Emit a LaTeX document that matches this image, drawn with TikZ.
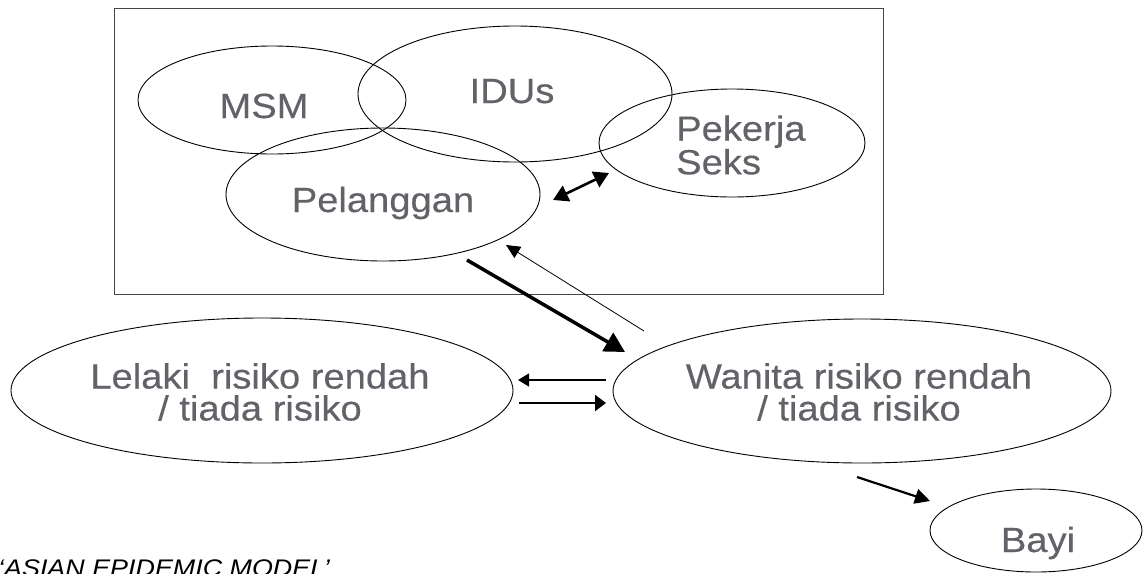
\documentclass[tikz,border=0pt]{standalone}
\usepackage{fontspec}
\newfontfamily\lblfont{Liberation Sans}[FakeStretch=1.09,FakeBold=0.35]
\newfontfamily\capfont{Liberation Sans}[FakeStretch=1.12]
\usetikzlibrary{shapes.geometric,arrows.meta}
\definecolor{lblgray}{RGB}{98,98,104}
\definecolor{boxgray}{RGB}{70,70,70}
\begin{document}
\begin{tikzpicture}[x=1pt,y=-1pt,
  blob/.style={draw,ellipse,line width=0.9pt,inner sep=0pt},
  lbl/.style={text=lblgray,inner sep=0pt,font=\lblfont\fontsize{35}{31}\selectfont},
  captxt/.style={text=black,inner sep=0pt,font=\capfont\itshape\fontsize{24}{27}\selectfont},
  thickarr/.style={line width=3.5pt,-{Triangle[length=20pt,width=21pt]}},
  thinarr/.style={line width=0.8pt,-{Triangle[length=14pt,width=13pt]}},
  midarr/.style={line width=2.5pt,-{Triangle[length=11pt,width=16pt]}},
  lightarr/.style={line width=1.2pt,-{Triangle[length=11pt,width=13pt]}},
  duoarr/.style={line width=2.6pt,{Triangle[length=15pt,width=17pt]}-{Triangle[length=15pt,width=17pt]}},
  babyarr/.style={line width=2.2pt,-{Triangle[length=15pt,width=15pt]}}]
\useasboundingbox (0,0) rectangle (1143,573);

% frame
\node[draw=boxgray,line width=0.9pt,minimum width=769pt,minimum height=286pt,inner sep=0pt] (box) at (498.5,151) {};

% ellipses
\node[blob,minimum width=268pt,minimum height=108pt] (msm) at (272,100) {};
\node[blob,minimum width=314pt,minimum height=136pt] (idu) at (515,94) {};
\node[blob,minimum width=266pt,minimum height=108pt] (psk) at (732,143) {};
\node[blob,minimum width=314pt,minimum height=133pt] (plg) at (383,194.5) {};
\node[blob,minimum width=502pt,minimum height=145pt] (llk) at (262,390.5) {};
\node[blob,minimum width=498pt,minimum height=144pt] (wnt) at (862,391) {};
\node[blob,minimum width=212pt,minimum height=83pt] (byi) at (1036,530.5) {};

% labels
\node[lbl,anchor=base] (tmsm) at (264,118) {MSM};
\node[lbl,anchor=base] (tidu) at (512,103) {IDUs};
\node[lbl,anchor=west,align=left,font=\lblfont\fontsize{35}{30}\selectfont] (tpsk) at (676,145) {Pekerja\\Seks};
\node[lbl,anchor=base] (tplg) at (383,212) {Pelanggan};
\node[lbl,align=center,font=\lblfont\fontsize{35}{32}\selectfont] (tllk) at (260,392) {Lelaki~ risiko rendah\\/ tiada risiko};
\node[lbl,align=center,font=\lblfont\fontsize{35}{32}\selectfont] (twnt) at (859,392) {Wanita risiko rendah\\/ tiada risiko};
\node[lbl,anchor=base] (tbyi) at (1038,552) {Bayi};
\node[captxt,anchor=base west] (tcap) at (-2,576) {‘ASIAN EPIDEMIC MODEL’};

% connector end points
\coordinate (a1) at (553,200); \coordinate (a2) at (609,173);
\coordinate (b1) at (467,260); \coordinate (b2) at (625,352);
\coordinate (c1) at (644,331); \coordinate (c2) at (506,245);
\coordinate (d1) at (606,380); \coordinate (d2) at (518,380);
\coordinate (e1) at (519,403); \coordinate (e2) at (606,403);
\coordinate (f1) at (857,477); \coordinate (f2) at (930,501);

\draw[duoarr] (a1) -- (a2);
\draw[thickarr] (b1) -- (b2);
\draw[thinarr] (c1) -- (c2);
\draw[lightarr] (d1) -- (d2);
\draw[midarr] (e1) -- (e2);
\draw[babyarr] (f1) -- (f2);
\end{tikzpicture}
\end{document}
